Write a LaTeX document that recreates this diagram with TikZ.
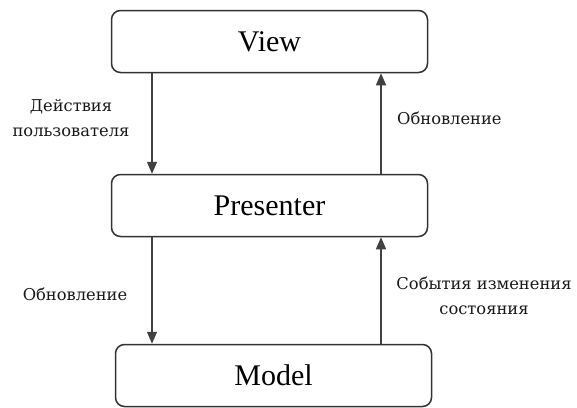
\documentclass[tikz,border=0pt]{standalone}
\usepackage{fontspec}
\setmainfont{Liberation Serif}
\newfontfamily\labelfont{DejaVu Serif}
\usetikzlibrary{arrows.meta}
\begin{document}
\begin{tikzpicture}[x=1pt,y=-1pt,
  layer/.style={draw=black!80, line width=1.5pt, rounded corners=9pt,
    minimum width=316pt, minimum height=62pt, inner sep=0pt,
    font=\fontsize{30}{36}\selectfont},
  flow/.style={draw=black!75, line width=1.3pt,
    -{Triangle[length=12pt,width=10pt]}},
  note/.style={inner sep=0pt, align=center, text=black!90,
    font=\labelfont\fontsize{16.3}{25}\selectfont}]
  \useasboundingbox[fill=white] (0,0) rectangle (577,407);

  % the three layers
  \node[layer] (view)  at (269.5,41.5)  {View};
  \node[layer] (pres)  at (269.5,205.5) {Presenter};
  \node[layer] (model) at (273.5,375.5) {Model};

  % columns of the connectors
  \coordinate (xl) at (152,0);
  \coordinate (xr) at (381,0);

  % View <-> Presenter
  \draw[flow] (view.south -| xl) -- (pres.north -| xl);
  \draw[flow] (pres.north -| xr) -- (view.south -| xr);
  % Presenter <-> Model
  \draw[flow] (pres.south -| xl) -- (model.north -| xl);
  \draw[flow] (model.north -| xr) -- (pres.south -| xr);

  % labels
  \node[note] (act)  at (71,118)  {Действия\\пользователя};
  \node[note, anchor=west] (upd1) at (397,118) {Обновление};
  \node[note] (upd2) at (75,294)  {Обновление};
  \node[note] (evt)  at (484,296) {События изменения\\состояния};
\end{tikzpicture}
\end{document}
